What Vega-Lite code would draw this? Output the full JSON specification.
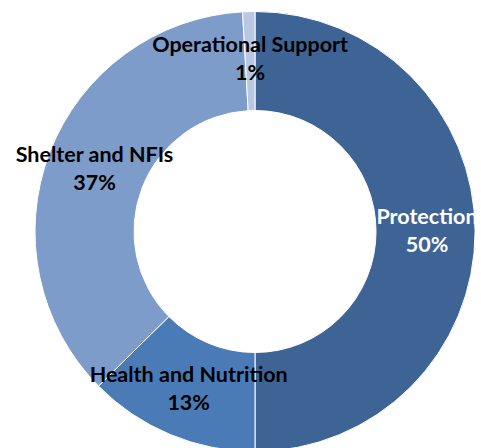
{
  "$schema": "https://vega.github.io/schema/vega-lite/v6.json",
  "autosize": {"type": "fit", "contains": "padding"},
  "width": 481,
  "height": 448,
  "padding": {"left": 29, "top": 15, "right": 0, "bottom": 0},
  "background": "white",
  "view": {"stroke": null},
  "data": {
    "values": [
      {"category": "Protection", "value": 50.0, "pct": "50%", "rank": 1},
      {"category": "Health and Nutrition", "value": 12.6, "pct": "13%", "rank": 2},
      {"category": "Shelter and NFIs", "value": 36.5, "pct": "37%", "rank": 3},
      {"category": "Operational Support", "value": 0.9, "pct": "1%", "rank": 4}
    ]
  },
  "encoding": {
    "theta": {"field": "value", "type": "quantitative", "stack": true},
    "order": {"field": "rank", "type": "quantitative", "sort": "ascending"}
  },
  "layer": [
    {
      "mark": {"type": "arc", "outerRadius": 220, "innerRadius": 121, "stroke": "white", "strokeWidth": 1},
      "encoding": {
        "color": {
          "field": "category",
          "type": "nominal",
          "scale": {
            "domain": ["Protection", "Health and Nutrition", "Shelter and NFIs", "Operational Support"],
            "range": ["#3E6496", "#4A7BB7", "#7E9CCA", "#B8C8E3"]
          },
          "legend": null
        }
      }
    },
    {
      "mark": {"type": "text", "radius": 172, "font": "Lato", "fontWeight": "bold", "fontSize": 21.5, "align": "center", "baseline": "middle", "dy": -14},
      "encoding": {
        "text": {"field": "category", "type": "nominal"},
        "color": {"condition": {"test": "datum.category === 'Protection'", "value": "white"}, "value": "black"}
      }
    },
    {
      "mark": {"type": "text", "radius": 172, "font": "Lato", "fontWeight": "bold", "fontSize": 21.5, "align": "center", "baseline": "middle", "dy": 14},
      "encoding": {
        "text": {"field": "pct", "type": "nominal"},
        "color": {"condition": {"test": "datum.category === 'Protection'", "value": "white"}, "value": "black"}
      }
    }
  ]
}
